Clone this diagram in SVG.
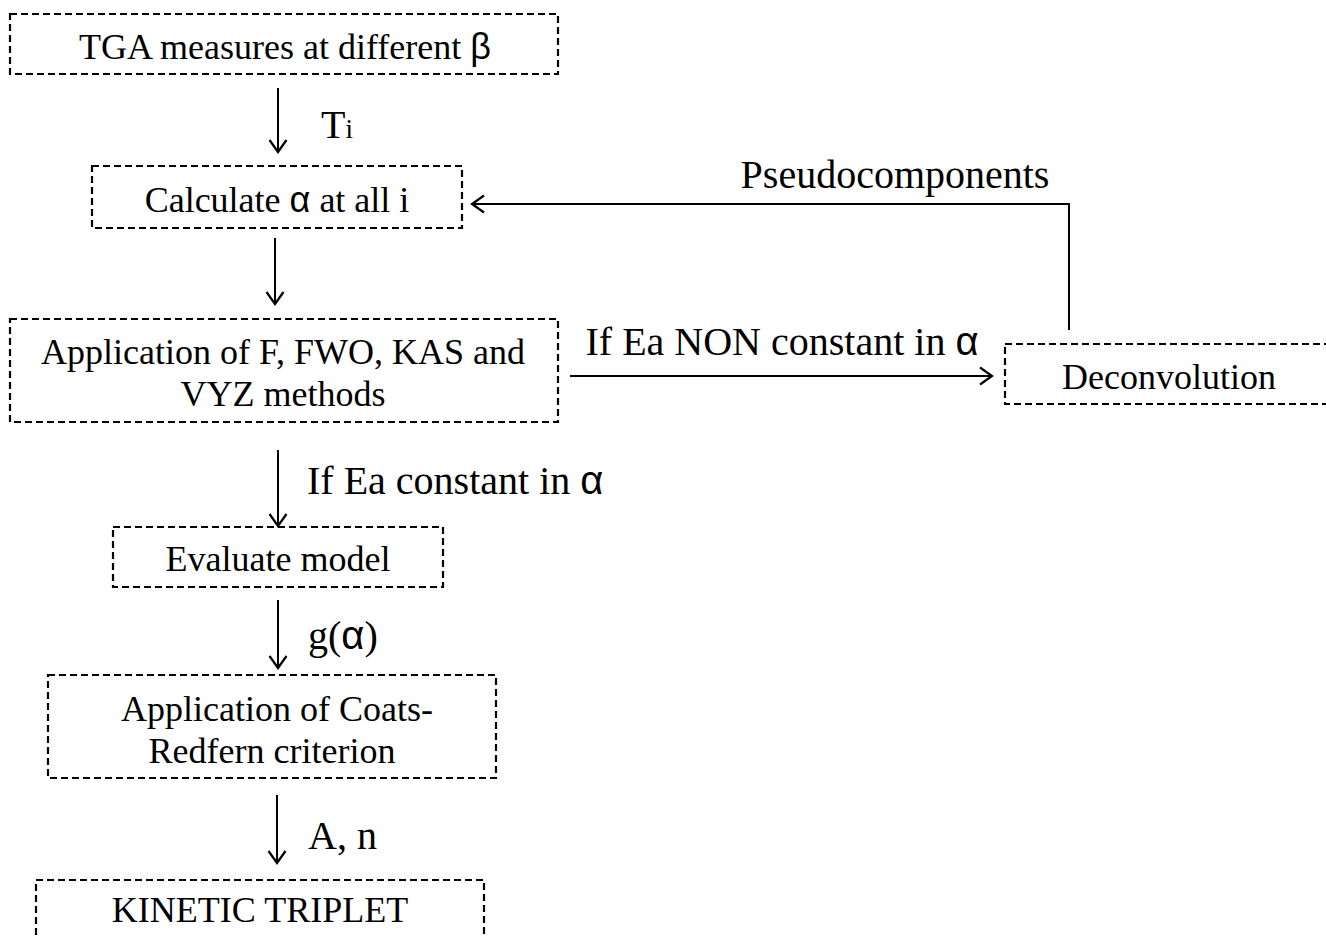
<svg xmlns="http://www.w3.org/2000/svg" width="1326" height="936" viewBox="0 0 1326 936">
<defs>
<marker id="ah" viewBox="0 0 20 20" refX="18" refY="10" markerWidth="20" markerHeight="20" markerUnits="userSpaceOnUse" orient="auto">
<path d="M6,1.5 L18,10 L6,18.5" fill="none" stroke="#000" stroke-width="2.2"/>
</marker>
</defs>
<style>
.box{fill:none;stroke:#000;stroke-width:2.2;stroke-dasharray:7,4}
.t{font-family:"Liberation Serif","Times New Roman",serif;font-size:36px;fill:#000}
.e{font-size:40px}
.c{text-anchor:middle}
.g{font-family:"Liberation Sans",Arial,sans-serif}
.ln{fill:none;stroke:#000;stroke-width:2}
</style>
<rect width="1326" height="936" fill="#fff"/>
<g id="n1"><rect class="box" x="10" y="14" width="548" height="60"/>
<text class="t c" x="285" y="59">TGA measures at different <tspan class="g">β</tspan></text></g>
<g id="n2"><rect class="box" x="92" y="166" width="370" height="62"/>
<text class="t c" x="277" y="212">Calculate <tspan class="g">α</tspan> at all i</text></g>
<g id="n3"><rect class="box" x="10" y="319" width="548" height="103"/>
<text class="t c" x="283" y="364">Application of F, FWO, KAS and</text>
<text class="t c" x="283" y="406">VYZ methods</text></g>
<g id="n4"><rect class="box" x="1005" y="344" width="330" height="60"/>
<text class="t c" x="1169" y="389">Deconvolution</text></g>
<g id="n5"><rect class="box" x="113" y="527" width="330" height="60"/>
<text class="t c" x="278" y="571">Evaluate model</text></g>
<g id="n6"><rect class="box" x="48" y="675" width="448" height="103"/>
<text class="t c" x="277" y="721">Application of Coats-</text>
<text class="t c" x="272" y="763">Redfern criterion</text></g>
<g id="n7"><rect class="box" x="36" y="880" width="448" height="80"/>
<text class="t c" x="260" y="922">KINETIC TRIPLET</text></g>
<g id="connectors">
<line class="ln" x1="278" y1="88" x2="278" y2="152" marker-end="url(#ah)"/>
<line class="ln" x1="275" y1="238" x2="275" y2="304" marker-end="url(#ah)"/>
<line class="ln" x1="570" y1="376" x2="992" y2="376" marker-end="url(#ah)"/>
<polyline class="ln" points="1069,330 1069,204 472,204" marker-end="url(#ah)"/>
<line class="ln" x1="278" y1="450" x2="278" y2="526" marker-end="url(#ah)"/>
<line class="ln" x1="278" y1="600" x2="278" y2="668" marker-end="url(#ah)"/>
<line class="ln" x1="277" y1="795" x2="277" y2="863" marker-end="url(#ah)"/>
<text class="t e" x="321" y="138">T<tspan font-size="27">i</tspan></text>
<text class="t e c" x="895" y="188">Pseudocomponents</text>
<text class="t e c" x="782" y="355">If Ea NON constant in <tspan class="g">α</tspan></text>
<text class="t e" x="307" y="494">If Ea constant in <tspan class="g">α</tspan></text>
<text class="t e" x="308" y="649">g(<tspan class="g">α</tspan>)</text>
<text class="t e" x="308" y="849">A, n</text>
</g>
</svg>
